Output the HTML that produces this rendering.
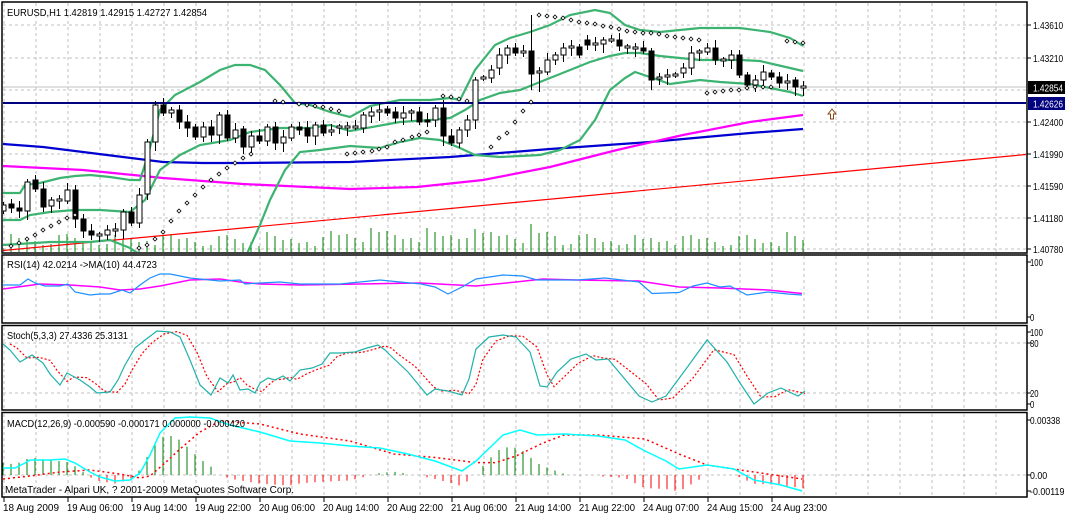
<!DOCTYPE html>
<html><head><meta charset="utf-8">
<style>
html,body{margin:0;padding:0;background:#fff;}
svg{display:block;}
text{font-family:"Liberation Sans",sans-serif;font-size:10.5px;fill:#000;}
</style></head>
<body>
<svg id="s" width="1065" height="514" xmlns="http://www.w3.org/2000/svg">
<defs><clipPath id="cm"><rect x="3" y="3" width="1023" height="249"/></clipPath></defs>
<rect x="0" y="0" width="1065" height="514" fill="#fff"/>
<g id="grid"></g>
<g id="main" clip-path="url(#cm)"></g>
<g id="ind"></g>
<g id="frames" fill="none" stroke="#000" stroke-width="1.5">
<rect x="2" y="2" width="1025" height="251"/>
<rect x="2" y="255" width="1025" height="68"/>
<rect x="2" y="325.5" width="1025" height="84.5"/>
<rect x="2" y="412.5" width="1025" height="84.5"/>
</g>
<g id="labels">
<text x="7" y="16" textLength="200" lengthAdjust="spacingAndGlyphs">EURUSD,H1  1.42819 1.42915 1.42727 1.42854</text>
<text x="7" y="268" textLength="150" lengthAdjust="spacingAndGlyphs">RSI(14) 42.0214  -&gt;MA(10) 44.4723</text>
<text x="7" y="339" textLength="121" lengthAdjust="spacingAndGlyphs">Stoch(5,3,3) 27.4336 25.3131</text>
<text x="7" y="427" textLength="238" lengthAdjust="spacingAndGlyphs">MACD(12,26,9) -0.000590 -0.000171 0.000000 -0.000420</text>
<text x="5" y="493" textLength="289" lengthAdjust="spacingAndGlyphs">MetaTrader - Alpari UK, ? 2001-2009 MetaQuotes Software Corp.</text>
</g>
</svg>
<script>
var NS="http://www.w3.org/2000/svg";
function el(p,t,a,txt){var e=document.createElementNS(NS,t);for(var k in a)e.setAttribute(k,a[k]);if(txt!==undefined)e.textContent=txt;document.getElementById(p).appendChild(e);return e;}
function pl(p,pts,col,w,dash){return el(p,"polyline",{points:pts.map(function(q){return q[0]+","+q[1]}).join(" "),fill:"none",stroke:col,"stroke-width":w||1,"stroke-dasharray":dash||"none"});}
var gd="3,3";
for(var x=4;x<1027;x+=32){
 el("grid","line",{x1:x,y1:3,x2:x,y2:252,stroke:"#c0c0c0","stroke-dasharray":gd});
 el("grid","line",{x1:x,y1:256,x2:x,y2:322,stroke:"#c0c0c0","stroke-dasharray":gd});
 el("grid","line",{x1:x,y1:327,x2:x,y2:409,stroke:"#c0c0c0","stroke-dasharray":gd});
 el("grid","line",{x1:x,y1:414,x2:x,y2:496,stroke:"#c0c0c0","stroke-dasharray":gd});
}
[25,58,90,122,154,186,218,249].forEach(function(y){el("grid","line",{x1:3,y1:y,x2:1026,y2:y,stroke:"#c0c0c0","stroke-dasharray":gd});});
[343,393].forEach(function(y){el("grid","line",{x1:3,y1:y,x2:1026,y2:y,stroke:"#c0c0c0","stroke-dasharray":gd});});
el("grid","line",{x1:3,y1:475,x2:1026,y2:475,stroke:"#c0c0c0","stroke-dasharray":gd});
el("grid","line",{x1:3,y1:87,x2:1026,y2:87,stroke:"#c0c0c0"});
function lab(t,y,x){el("labels","text",{x:x||1033,y:y+4,textLength:t.length*4.3,lengthAdjust:"spacingAndGlyphs"},t);}
var ax=[["1.43610",25],["1.43210",58],["1.42400",122],["1.41990",154],["1.41590",186],["1.41180",218],["1.40780",249]];
ax.forEach(function(a){el("labels","line",{x1:1027,y1:a[1],x2:1031,y2:a[1],stroke:"#000"});lab(a[0],a[1]);});
el("labels","rect",{x:1028,y:81,width:37,height:13,fill:"#000"});
el("labels","text",{x:1033,y:91.5,style:"fill:#fff",textLength:30,lengthAdjust:"spacingAndGlyphs"},"1.42854");
el("labels","rect",{x:1028,y:97,width:37,height:13,fill:"#000080"});
el("labels","text",{x:1033,y:107.5,style:"fill:#fff",textLength:30,lengthAdjust:"spacingAndGlyphs"},"1.42626");
[["100",262],["0",317]].forEach(function(a){el("labels","line",{x1:1027,y1:a[1],x2:1031,y2:a[1],stroke:"#000"});lab(a[0],a[1],1030);});
[["100",332],["80",343],["20",393],["0",404]].forEach(function(a){el("labels","line",{x1:1027,y1:a[1],x2:1031,y2:a[1],stroke:"#000"});lab(a[0],a[1],1030);});
[["0.00338",420],["0.00",475],["-0.00119",491]].forEach(function(a){el("labels","line",{x1:1027,y1:a[1],x2:1031,y2:a[1],stroke:"#000"});lab(a[0],a[1],1030);});
var dl=["18 Aug 2009","19 Aug 06:00","19 Aug 14:00","19 Aug 22:00","20 Aug 06:00","20 Aug 14:00","20 Aug 22:00","21 Aug 06:00","21 Aug 14:00","21 Aug 22:00","24 Aug 07:00","24 Aug 15:00","24 Aug 23:00"];
dl.forEach(function(d,i){var x=4+64*i;el("labels","line",{x1:x,y1:497,x2:x,y2:502,stroke:"#000"});el("labels","text",{x:x-1,y:511,textLength:56,lengthAdjust:"spacingAndGlyphs"},d);});

for(var i=0;i<101;i++){var x=3+8*i;var h=4+((i*37)%13)+((i*13)%5);if(i>40&&i<70)h+=5;if(i==66)h=28;if(i==59)h=23;el("main","line",{x1:x,y1:252,x2:x,y2:252-h,stroke:"#008000"});}
el("main","line",{x1:3,y1:250.5,x2:1026,y2:154.5,stroke:"#f00","stroke-width":1.2});
pl("main",[[3,144],[43,147],[83,152],[123,157],[163,162],[203,163],[243,163],[350,162],[450,157],[550,149],[650,142],[750,133],[803,129]],"#0000d0",2.2);
pl("main",[[3,166],[83,170],[163,178],[243,184],[350,189],[417,187],[483,180],[550,167],[617,150],[683,135],[750,122],[803,115]],"#ff00ff",2.2);
var bbc="#3cb371";
pl("main",[[3,193],[20,193],[25,185],[40,183],[60,178],[75,176],[90,175],[110,177],[130,180],[140,180],[148,155],[160,110],[175,95],[200,82],[220,70],[235,65],[250,65],[265,70],[280,85],[295,103],[310,105],[330,112],[350,117],[370,106],[400,100],[430,100],[450,98],[460,100],[475,70],[495,45],[510,38],[530,32],[550,25],[570,15],[595,10],[610,13],[625,25],[640,30],[660,32],[680,30],[700,28],[740,28],[770,32],[790,38],[803,46]],bbc,2.2);
pl("main",[[3,220],[20,220],[30,215],[50,212],[75,210],[100,210],[130,212],[145,200],[160,170],[180,155],[200,145],[230,140],[250,132],[280,128],[310,128],[330,125],[350,131],[400,122],[430,120],[450,118],[465,110],[480,100],[500,93],[520,90],[545,80],[570,70],[590,62],[610,56],[625,53],[640,53],[660,56],[680,58],[700,60],[740,60],[760,61],[790,68],[803,71]],bbc,2.2);
pl("main",[[3,245],[50,242],[90,242],[110,240],[130,248],[145,258],[245,258],[260,225],[270,200],[285,170],[300,152],[320,150],[350,146],[380,148],[400,142],[420,138],[440,140],[460,148],[475,155],[500,157],[540,155],[560,150],[580,140],[595,120],[610,90],[625,78],[635,72],[650,77],[670,84],[700,80],[720,82],[750,84],[770,88],[790,92],[803,96]],bbc,2.2);
el("main","line",{x1:3,y1:103,x2:1026,y2:103,stroke:"#000080","stroke-width":2});
var C=[[211,205],[204,208],[208,211],[211,182],[180,189],[189,207],[206,200],[200,200],[201,190],[190,219],[219,231],[231,235],[235,235],[235,230],[230,230],[230,212],[212,223],[223,195],[194,142],[142,105],[105,113],[113,110],[110,122],[122,128],[127,137],[137,127],[127,135],[135,115],[115,138],[138,130],[129,147],[147,136],[136,141],[141,127],[127,143],[143,137],[138,127],[127,130],[128,136],[136,125],[125,133],[131,131],[127,127],[127,127],
[127,127],[128,115],[116,112],[112,110],[109,113],[112,118],[118,113],[112,112],[112,122],[120,122],[120,108],[108,136],[136,143],[143,130],[130,120],[120,80],[78,78],[78,70],[68,55],[55,48],[48,53],[52,52],[51,74],[72,72],[72,60],[60,55],[55,48],[47,47],[47,55],[40,45],[44,44],[44,40],[40,40],[40,46],[47,47],[48,48],[48,51],[51,80],[78,78],[76,76],[75,75],[73,68],[68,53],[52,52],[52,48],[48,60],[60,60],[60,55],[55,75],[75,85],[85,80],[80,72],[73,77],[77,83],[83,81],[80,87],[88,86]];
var HI={4:175,9:185,19:101,55:100,59:77,61:65,66:15,81:48,89:40,92:50};
var LO={9:228,18:200,55:146,66:90,67:92,81:90,93:90,100:96,12:242,11:240};
for(var i=0;i<C.length;i++){
 var x=3+8*i,o=C[i][0],c=C[i][1],t=Math.min(o,c),b=Math.max(o,c);
 var hi=HI[i]!==undefined?HI[i]:t-3-(i%3)*2, lo=LO[i]!==undefined?LO[i]:b+3+(i%4)*2;
 el("main","line",{x1:x+0.5,y1:hi,x2:x+0.5,y2:lo,stroke:"#000"});
 var white=o>c;
 if(b-t<1){el("main","rect",{x:x-2,y:t-1,width:5,height:2,fill:"#fff",stroke:"#000"});}
 else el("main","rect",{x:x-2,y:t,width:5,height:b-t,fill:white?"#fff":"#000",stroke:"#000"});
}
var S=[[11,246],[19,243],[27,239],[35,235],[43,230],[51,226],[59,222],[67,218],[75,215],[139,248],[147,245],[155,239],[163,232],[171,221],[179,211],[187,203],[195,195],[203,187],[211,180],[219,174],[227,168],[235,163],[243,158],[251,154],[275,101],[283,102],[299,104],[307,105],[315,106],[323,107],[331,109],[339,111],[347,154],[355,153],[363,152],[372,151],[379,149],[387,147],[395,142],[403,140],[412,137],[419,135],[427,132],[443,96],[451,97],[459,99],[467,101],[491,147],[499,138],[507,133],[515,122],[523,111],[531,102],[539,15],[547,16],[555,17],[563,18],[571,20],[579,22],[587,23],[595,24],[603,26],[611,27],[619,29],[627,31],[635,32],[643,33],[651,33],[659,34],[667,36],[675,37],[683,38],[691,39],[699,40],[707,93],[715,92],[723,91],[731,90],[739,90],[747,88],[755,87],[763,87],[771,87],[787,41],[795,42],[803,43]];
S.forEach(function(p){el("main","path",{d:"M"+p[0]+" "+(p[1]-2)+"l2 2l-2 2l-2 -2z",fill:"#fff",stroke:"#000","stroke-width":0.8});});
el("main","path",{d:"M832 109l-4 5h2.5v5h3v-5h2.5z",fill:"#fff",stroke:"#8b4513"});
pl("ind",[[3,289],[40,284],[70,285],[100,287],[120,290],[140,289],[160,286],[190,280],[220,279],[240,282],[260,284],[300,285],[420,283],[476,286],[516,282],[543,279],[577,280],[639,281],[679,287],[720,288],[768,290],[802,293.5]],"#ff00ff",1.5);
pl("ind",[[3,285],[20,285],[28,279],[35,283],[45,286],[60,286],[68,284],[75,292],[90,295],[100,294],[110,294],[122,290],[130,293],[140,285],[150,278],[160,274],[170,274],[180,276],[190,278],[200,279],[220,281],[240,280],[245,284],[260,283],[280,282],[300,284],[320,284],[340,284],[360,282],[380,280],[400,282],[421,284],[435,287],[448,294],[462,287],[476,279],[503,275],[523,276],[537,280],[577,280],[605,278],[639,282],[652,293.5],[679,292.5],[693,286],[707,283],[720,287],[730,286],[747,295],[768,292],[788,294],[802,295]],"#1e90ff",1.2);
var ST=[[3,344],[10,350],[20,362],[32,355],[43,363],[50,374],[60,385],[67,373],[80,380],[90,387],[97,393],[110,392],[118,380],[125,365],[135,348],[145,340],[157,331],[170,332],[180,337],[190,360],[200,385],[211,395],[220,378],[228,383],[233,375],[240,390],[248,389],[255,393],[260,383],[268,378],[275,380],[283,376],[290,381],[300,370],[312,368],[322,364],[330,353],[340,353],[355,352],[367,348],[378,345],[385,350],[390,355],[408,372],[427,395],[435,389],[448,391],[462,395],[469,379],[476,349],[489,337],[503,335],[516,337],[530,352],[540,386],[547,387],[557,372],[571,359],[586,354],[596,360],[608,359],[639,396],[652,402],[666,396],[686,369],[707,340],[727,362],[740,383],[754,404],[768,393],[781,388],[798,396],[805,391]];
var SG=[];for(var i=0;i<ST.length;i++){var a=ST[Math.max(0,i-1)][1],b=ST[i][1];SG.push([ST[i][0]+7,(a+b*2)/3]);}
SG[SG.length-1][0]=Math.min(SG[SG.length-1][0],803);
pl("ind",SG,"#ff0000",1.2,"2,2");
pl("ind",ST,"#20b2aa",1.2);
var MC=[[3,468],[15,468],[25,463],[30,460],[50,460],[65,459],[75,463],[90,472],[100,477],[115,481],[130,480],[140,473],[150,455],[160,433],[175,418],[190,417],[210,418],[230,425],[260,432],[290,441],[320,443],[350,446],[380,448],[408,454],[435,461],[462,471],[476,461],[503,435],[520,430],[537,435],[564,434],[598,436],[625,440],[645,451],[666,461],[679,469],[707,465],[734,469],[754,480],[781,485],[802,491]];
var SGm=[[3,479],[30,476],[60,472],[90,470],[120,474],[140,478],[150,476],[165,463],[180,449],[200,432],[220,421],[260,424],[300,434],[350,441],[394,454],[435,457.5],[476,462.6],[496,462.6],[516,456],[543,443],[564,435],[598,435],[645,439],[679,454],[707,465],[747,471],[802,479]];
function interp(arr,x){for(var i=1;i<arr.length;i++){if(x<=arr[i][0]){var a=arr[i-1],b=arr[i];return a[1]+(b[1]-a[1])*(x-a[0])/(b[0]-a[0]);}}return arr[arr.length-1][1];}
for(var i=0;i<101;i++){var x=3+8*i;var h=(interp(SGm,x)-interp(MC,x))*1.1;if(Math.abs(h)<1)continue;
 el("ind","line",{x1:x,y1:475,x2:x,y2:475-h,stroke:h>0?"#008000":"#ff0000","stroke-width":1});}
pl("ind",SGm,"#ff0000",1.5,"2,3");
pl("ind",MC,"#00ffff",1.5);
</script>
</body></html>
